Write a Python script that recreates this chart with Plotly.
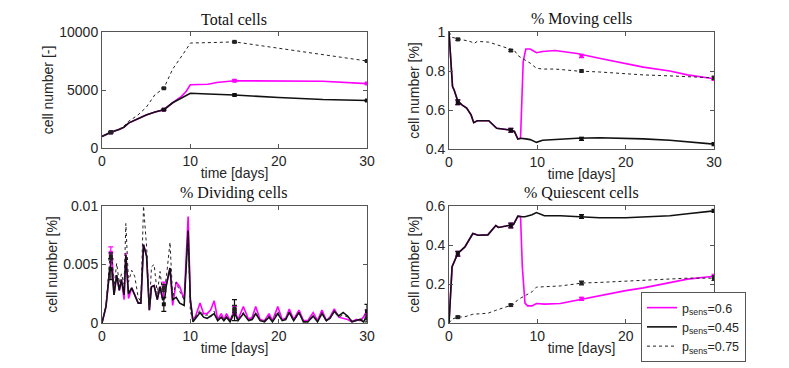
import plotly.graph_objects as go

# ---- data ----
labels = ["p<sub>sens</sub>=0.6", "p<sub>sens</sub>=0.45", "p<sub>sens</sub>=0.75"]

# Total cells
t_tot = [0, 1, 2, 2.5, 3, 4, 5, 6, 7, 8, 9, 9.5, 10, 12, 13, 15, 20, 25, 30]
tot_06 = [1000, 1350, 1620, 1800, 2150, 2500, 2850, 3100, 3300, 3900, 4450, 4850, 5450, 5500, 5650, 5800, 5800, 5750, 5550]
tot_045 = [1000, 1350, 1620, 1800, 2150, 2500, 2850, 3100, 3300, 3900, 4280, 4500, 4720, 4650, 4620, 4570, 4350, 4180, 4100]
tot_075 = [1000, 1350, 1650, 1900, 2300, 2800, 3500, 4600, 5150, 6800, 7850, 8450, 9050, 9050, 9100, 9150, 8600, 8050, 7500]

# % Moving cells
t_mov = [0, 0.4, 0.6, 1, 1.5, 2, 2.5, 2.8, 3.2, 4.5, 5.4, 6.3, 7.1, 7.4, 7.8, 8.1, 8.4, 8.7, 9.2, 9.9,
         10.6, 12, 14.5, 17, 20, 22, 25, 27, 30]
mov_06 = [1.0, 0.72, 0.70, 0.645, 0.625, 0.61, 0.575, 0.535, 0.545, 0.545, 0.506, 0.50, 0.496, 0.49, 0.451, 0.455,
          0.848, 0.913, 0.913, 0.894, 0.90, 0.905, 0.89, 0.865, 0.84, 0.82, 0.80, 0.78, 0.76]
mov_045 = [1.0, 0.72, 0.70, 0.645, 0.625, 0.61, 0.575, 0.535, 0.545, 0.545, 0.506, 0.50, 0.496, 0.49, 0.451, 0.455,
           0.455, 0.452, 0.448, 0.434, 0.445, 0.45, 0.455, 0.458, 0.456, 0.452, 0.445, 0.437, 0.425]
mov_075 = [1.0, 0.972, 0.97, 0.965, 0.96, 0.955, 0.95, 0.94, 0.952, 0.948, 0.935, 0.925, 0.91, 0.905, 0.88, 0.87,
           0.862, 0.855, 0.84, 0.814, 0.81, 0.81, 0.80, 0.795, 0.785, 0.78, 0.775, 0.77, 0.765]

# % Dividing cells
t_div = [0, 0.45, 0.9, 1.13, 1.36, 1.66, 1.96, 2.2, 2.5, 2.7, 3.0, 3.36, 3.7, 4.1, 4.4, 4.7, 5.05, 5.36, 5.6, 5.9,
         6.26, 6.57, 6.87, 7.1, 7.3, 7.7, 8.0, 8.4, 8.8, 9.3, 9.75, 10.0,
         10.3, 10.6, 11.1, 11.5, 11.9, 12.3, 12.7, 13.1, 13.5, 13.8, 14.1, 14.5, 15.0, 15.4, 16.0, 16.6, 17.0, 17.4,
         17.9, 18.4, 18.9, 19.3, 19.9, 20.4, 20.8, 21.2, 21.7, 22.3, 22.8, 23.3, 23.9, 24.4, 24.9, 25.4, 25.8, 26.3,
         26.8, 27.3, 27.8, 28.3, 28.8, 29.2, 29.6, 30.0]
div_06 = [0, 0.0014, 0.0047, 0.0058, 0.0024, 0.0041, 0.0028, 0.0037, 0.002, 0.006, 0.0021, 0.003, 0.0024, 0.0017,
          0.0017, 0.0067, 0.0057, 0.0011, 0.0031, 0.0032, 0.002, 0.0031, 0.002, 0.0032, 0.0033, 0.0047, 0.0015,
          0.0035, 0.0031, 0.002, 0.0091, 0.002,
          0.0002, 0.0006, 0.0017, 0.0008, 0.0008, 0.0011, 0.0019, 0.0003, 0.0008, 0.0003, 0.0008, 0.0002, 0.0011,
          0.0003, 0.0014, 0.0003, 0.0005, 0.0014, 0.0003, 0.0002, 0.0008, 0.0002, 0.0014, 0.0003, 0.0004, 0.0012,
          0.0003, 0.0011, 0.0002, 0.0002, 0.0009, 0.0002, 0.0011, 0.0002, 0.0005, 0.0012, 0.0005, 0.0004, 0.0003,
          0.0001, 0.0003, 0.0002, 0.0005, 0.0011]
div_045 = [0, 0.0014, 0.0048, 0.0045, 0.0024, 0.0041, 0.0028, 0.0037, 0.0024, 0.0058, 0.0025, 0.003, 0.0024, 0.0017,
           0.0017, 0.0067, 0.0057, 0.0011, 0.0031, 0.0032, 0.002, 0.0031, 0.002, 0.0021, 0.0033, 0.0047, 0.002,
           0.0022, 0.0017, 0.0015, 0.0079, 0.002,
           0.0001, 0.0004, 0.0009, 0.0005, 0.0004, 0.0006, 0.0008, 0.0002, 0.0005, 0.0002, 0.0005, 0.0001, 0.0009,
           0.0002, 0.0008, 0.0002, 0.0003, 0.0008, 0.0002, 0.0001, 0.0005, 0.0001, 0.0008, 0.0002, 0.0003, 0.0009,
           0.0002, 0.0009, 0.0001, 0.0001, 0.0006, 0.0001, 0.0008, 0.0002, 0.0004, 0.0010, 0.0006, 0.0009, 0.0006,
           0.0001, 0.0002, 0.0003, 0.0001, 0.0006]
div_075 = [0, 0.0015, 0.0057, 0.0059, 0.003, 0.0051, 0.0034, 0.0042, 0.0033, 0.0085, 0.0035, 0.0045, 0.004, 0.0022,
           0.0018, 0.0100, 0.0065, 0.0012, 0.0048, 0.005, 0.0025, 0.0044, 0.0025, 0.003, 0.004, 0.0069, 0.0022,
           0.0035, 0.0027, 0.002, 0.0077, 0.001,
           0.0002, 0.0005, 0.0011, 0.0006, 0.0007, 0.0005, 0.0010, 0.0002, 0.0006, 0.0002, 0.0006, 0.0002, 0.0012,
           0.0002, 0.0009, 0.0002, 0.0004, 0.0009, 0.0002, 0.0002, 0.0006, 0.0002, 0.0010, 0.0002, 0.0004, 0.0008,
           0.0002, 0.0008, 0.0002, 0.0001, 0.0005, 0.0002, 0.0009, 0.0001, 0.0005, 0.0009, 0.0005, 0.0007, 0.0005,
           0.0002, 0.0002, 0.0004, 0.0002, 0.0004]

# % Quiescent cells
t_qui = [0, 0.35, 1, 1.8, 2.7, 3.3, 4.4, 5.3, 5.6, 6.9, 7.3, 7.8, 8.1, 8.3, 8.6, 8.9, 9.4, 9.9, 10.8, 12.6, 14.3,
         15, 17, 20, 22, 25, 27, 30]
qui_06 = [0, 0.289, 0.357, 0.39, 0.459, 0.45, 0.452, 0.50, 0.49, 0.50, 0.505, 0.548, 0.545, 0.289, 0.102, 0.088,
          0.088, 0.10, 0.097, 0.10, 0.115, 0.124, 0.14, 0.166, 0.18, 0.209, 0.225, 0.24]
qui_045 = [0, 0.289, 0.357, 0.39, 0.459, 0.45, 0.452, 0.50, 0.49, 0.50, 0.505, 0.548, 0.545, 0.545, 0.545, 0.548,
           0.555, 0.566, 0.55, 0.55, 0.545, 0.546, 0.54, 0.54, 0.545, 0.55, 0.56, 0.575]
qui_075 = [0, 0.02, 0.03, 0.032, 0.045, 0.047, 0.05, 0.065, 0.07, 0.09, 0.095, 0.12, 0.128, 0.132, 0.138, 0.145,
           0.16, 0.184, 0.186, 0.19, 0.2, 0.205, 0.208, 0.215, 0.22, 0.225, 0.23, 0.23]

# error bars (mean, sd) at sampled days
err_days = [1, 7, 15, 30]
tot_err = {"06": ([1350, 3300, 5800, 5550], [40, 60, 70, 60]),
           "045": ([1350, 3300, 4570, 4100], [40, 60, 70, 60]),
           "075": ([1350, 5150, 9150, 7500], [40, 60, 70, 60])}
mov_err = {"06": ([0.64, 0.496, 0.877, 0.76], [0.012, 0.01, 0.008, 0.008]),
           "045": ([0.64, 0.496, 0.452, 0.425], [0.012, 0.01, 0.008, 0.008]),
           "075": ([0.962, 0.905, 0.80, 0.765], [0.005, 0.005, 0.005, 0.008])}
div_err = {"06": ([0.006, 0.0032, 0.0011, 0.0008], [0.0005, 0.0003, 0.0003, 0.0003]),
           "045": ([0.0046, 0.0016, 0.0011, 0.001], [0.0009, 0.0006, 0.0009, 0.0006]),
           "075": ([0.0057, 0.003, 0.0012, 0.0004], [0.0003, 0.0003, 0.0003, 0.0003])}
qui_err = {"06": ([0.355, 0.50, 0.124, 0.24], [0.012, 0.012, 0.008, 0.01]),
           "045": ([0.355, 0.50, 0.546, 0.575], [0.012, 0.012, 0.01, 0.008]),
           "075": ([0.03, 0.092, 0.205, 0.23], [0.005, 0.005, 0.01, 0.012])}

styles = {"06": dict(color="#ff00ff", width=1.6, dash="solid"),
          "045": dict(color="#111111", width=1.6, dash="solid"),
          "075": dict(color="#222222", width=1, dash="dot")}
order = ["06", "045", "075"]

panels = [
    ("x", "y", t_tot, {"06": tot_06, "045": tot_045, "075": tot_075}, tot_err),
    ("x2", "y2", t_mov, {"06": mov_06, "045": mov_045, "075": mov_075}, mov_err),
    ("x3", "y3", t_div, {"06": div_06, "045": div_045, "075": div_075}, div_err),
    ("x4", "y4", t_qui, {"06": qui_06, "045": qui_045, "075": qui_075}, qui_err),
]

fig = go.Figure()
for i, (xa, ya, t, series, errs) in enumerate(panels):
    for k, lab in zip(order, labels):
        fig.add_trace(go.Scatter(x=t, y=series[k], mode="lines", line=styles[k], name=lab,
                                 xaxis=xa, yaxis=ya, showlegend=(i == 0)))
        m, sd = errs[k]
        fig.add_trace(go.Scatter(x=err_days, y=m, mode="markers", xaxis=xa, yaxis=ya, showlegend=False,
                                 marker=dict(symbol="square", size=4, color=styles[k]["color"]),
                                 error_y=dict(type="data", array=sd, width=2.5, thickness=1.2,
                                              color=styles[k]["color"])))

# page body has an 8px margin, so the figure is a bit smaller and shifted
OFF = 8
W, H = 789 - OFF, 368 - OFF
def px_x(a, b):
    return [(a - OFF) / W, (b - OFF) / W]
def px_y(top, bottom):
    return [1 - (bottom - OFF) / H, 1 - (top - OFF) / H]

axcol = "#555555"
sans = "Liberation Sans, Arial"
tickfont = dict(family=sans, size=14, color="#262626")
common = dict(showgrid=False, zeroline=False, showline=True, linecolor=axcol, linewidth=1, mirror="ticks",
              ticks="inside", ticklen=4, tickcolor=axcol, tickfont=tickfont, automargin=False)
xtitle = dict(text="time [days]", font=dict(family=sans, size=14, color="#262626"), standoff=0)
def ytitle(s):
    return dict(text=s, font=dict(family=sans, size=14, color="#262626"), standoff=2)

fig.update_layout(
    width=W, height=H, margin=dict(l=0, r=0, t=0, b=0, autoexpand=False),
    paper_bgcolor="white", plot_bgcolor="white",
    xaxis=dict(domain=px_x(102, 367), range=[0, 30], tickvals=[0, 10, 20, 30], anchor="y", title=xtitle, **common),
    yaxis=dict(domain=px_y(32, 148), range=[0, 10000], tickvals=[0, 5000, 10000], ticktext=["0", "5000", "10000"],
               anchor="x", title=ytitle("cell number [-]"), **common),
    xaxis2=dict(domain=px_x(449, 714), range=[0, 30], tickvals=[0, 10, 20, 30], anchor="y2", title=xtitle, **common),
    yaxis2=dict(domain=px_y(32, 149), range=[0.4, 1], tickvals=[0.4, 0.6, 0.8, 1], ticktext=["0.4", "0.6", "0.8", "1"],
                anchor="x2", title=ytitle("cell number [%]"), **common),
    xaxis3=dict(domain=px_x(102, 367), range=[0, 30], tickvals=[0, 10, 20, 30], anchor="y3", title=xtitle, **common),
    yaxis3=dict(domain=px_y(206, 323), range=[0, 0.01], tickvals=[0, 0.005, 0.01], ticktext=["0", "0.005", "0.01"],
                anchor="x3", title=ytitle("cell number [%]"), **common),
    xaxis4=dict(domain=px_x(449, 714), range=[0, 30], tickvals=[0, 10, 20, 30], anchor="y4", title=xtitle, **common),
    yaxis4=dict(domain=px_y(206, 323), range=[0, 0.6], tickvals=[0, 0.2, 0.4, 0.6], ticktext=["0", "0.2", "0.4", "0.6"],
                anchor="x4", title=ytitle("cell number [%]"), **common),
    legend=dict(x=(641 - OFF) / W, y=1 - (292 - OFF) / H, xanchor="left", yanchor="top", bgcolor="white",
                bordercolor="#555555", borderwidth=1, font=dict(family=sans, size=12.5, color="#262626"),
                tracegroupgap=0, itemwidth=30),
    showlegend=True,
)

titlefont = dict(family="Liberation Serif, Times New Roman", size=16, color="#111111")
for txt, cx, cy in [("Total cells", 234, 19), ("% Moving cells", 581, 19),
                    ("% Dividing cells", 234, 193), ("% Quiescent cells", 581, 193)]:
    fig.add_annotation(text=txt, x=(cx - OFF) / W, y=1 - (cy - OFF) / H, xref="paper", yref="paper",
                       showarrow=False, font=titlefont, xanchor="center", yanchor="middle")

fig.write_html("out.html")
